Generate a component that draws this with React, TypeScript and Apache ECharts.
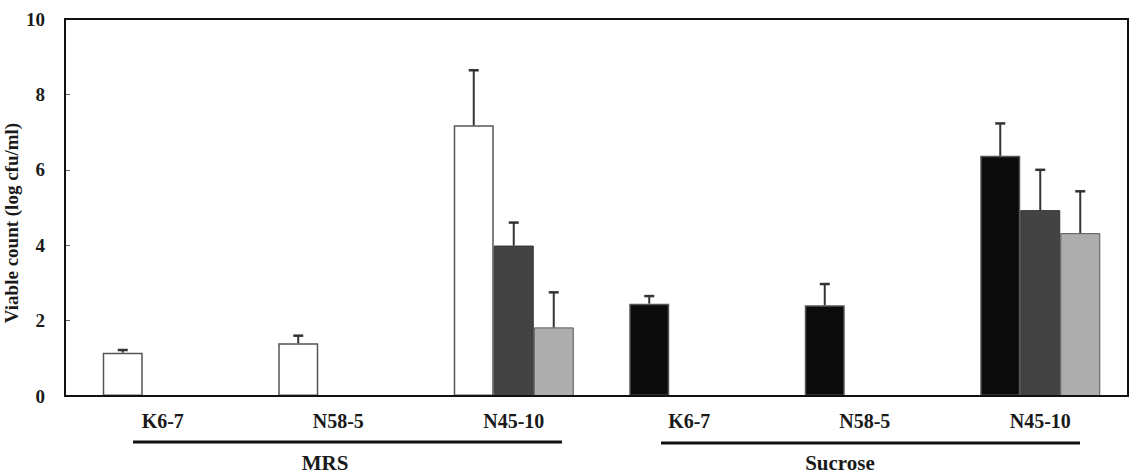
import React, { useEffect, useRef } from "react";
import * as echarts from "echarts";

const categories = ["K6-7", "N58-5", "N45-10", "K6-7", "N58-5", "N45-10"];
const groups = ["MRS", "Sucrose"];
const yTitle = "Viable count (log cfu/ml)";
const series1 = [1.15, 1.4, 7.18, 2.45, 2.41, 6.37];
const series1Err = [0.07, 0.2, 1.46, 0.2, 0.56, 0.86];
const series2 = [null, null, 3.99, null, null, 4.93];
const series2Err = [null, null, 0.61, null, null, 1.07];
const series3 = [null, null, 1.82, null, null, 4.32];
const series3Err = [null, null, 0.93, null, null, 1.11];
const yMin = 0;
const yMax = 10;
const yInterval = 2;

const FONT = "'Liberation Serif', 'Times New Roman', serif";
const BAR_W = 40;

export default function App() {
  const ref = useRef<HTMLDivElement>(null);
  useEffect(() => {
    if (!ref.current) return;
    const chart = echarts.init(ref.current, null, { renderer: "svg" });

    const s1Colors = categories.map((_, i) => (i < 3 ? "#ffffff" : "#0b0b0b"));
    const s1Data = series1.map((v, i) => ({ value: v, itemStyle: { color: s1Colors[i] } }));

    const errSeries = (vals: (number | null)[], errs: (number | null)[], idx: number) => ({
      type: "custom",
      z: 5,
      encode: { x: 0, y: [1] },
      data: vals
        .map((v, i) => [i, v, errs[i]])
        .filter((d) => d[1] !== null && d[2] !== null),
      renderItem: (params: any, api: any) => {
        const i = api.value(0);
        const v = api.value(1);
        const e = api.value(2);
        const base = api.coord([i, v]);
        const top = api.coord([i, v + e]);
        const x = base[0] + (idx - 1) * BAR_W;
        return {
          type: "group",
          children: [
            { type: "line", shape: { x1: x, y1: base[1], x2: x, y2: top[1] }, style: { stroke: "#333", lineWidth: 2 } },
            { type: "line", shape: { x1: x - 5, y1: top[1], x2: x + 5, y2: top[1] }, style: { stroke: "#333", lineWidth: 2.5 } },
          ],
        };
      },
    });

    const textStyleBase = {
      fontFamily: FONT,
      fontWeight: "bold",
      fill: "#1a1a1a",
    };

    const option: any = {
      animation: false,
      backgroundColor: "#ffffff",
      grid: { left: 75, right: 12, top: 19, bottom: 78, containLabel: false, outerBoundsMode: "none" },
      xAxis: {
        type: "category",
        data: categories,
        axisLine: { show: false },
        axisTick: { show: false },
        axisLabel: {
          interval: 0,
          margin: 15,
          fontFamily: FONT,
          fontWeight: "bold",
          fontSize: 20,
          color: "#1a1a1a",
        },
      },
      yAxis: {
        type: "value",
        min: yMin,
        max: yMax,
        interval: yInterval,
        offset: 10,
        splitLine: { show: false },
        axisLine: { show: false },
        axisTick: { show: true, inside: true, length: 5, lineStyle: { color: "#666" } },
        axisLabel: {
          margin: 20,
          fontFamily: FONT,
          fontWeight: "bold",
          fontSize: 19,
          color: "#1a1a1a",
        },
      },
      series: [
        {
          type: "bar",
          data: s1Data,
          barWidth: BAR_W,
          barGap: "0%",
          itemStyle: { borderColor: "#555", borderWidth: 1.5 },
        },
        {
          type: "bar",
          data: series2,
          barWidth: BAR_W,
          barGap: "0%",
          itemStyle: { color: "#434343", borderColor: "#333", borderWidth: 1 },
        },
        {
          type: "bar",
          data: series3,
          barWidth: BAR_W,
          barGap: "0%",
          itemStyle: { color: "#adadad", borderColor: "#555", borderWidth: 1 },
        },
        errSeries(series1, series1Err, 0),
        errSeries(series2, series2Err, 1),
        errSeries(series3, series3Err, 2),
      ],
      graphic: [
        {
          type: "rect",
          z: 100,
          shape: { x: 65, y: 19, width: 1063, height: 377 },
          style: { fill: "none", stroke: "#111", lineWidth: 2 },
        },
        {
          type: "text",
          z: 100,
          x: 11,
          y: 223,
          rotation: Math.PI / 2,
          style: {
            ...textStyleBase,
            text: yTitle,
            fontSize: 19,
            textAlign: "center",
            textVerticalAlign: "middle",
          },
        },
        {
          type: "line",
          z: 100,
          shape: { x1: 133, y1: 442, x2: 562, y2: 442 },
          style: { stroke: "#111", lineWidth: 3 },
        },
        {
          type: "line",
          z: 100,
          shape: { x1: 661, y1: 443, x2: 1080, y2: 443 },
          style: { stroke: "#111", lineWidth: 3 },
        },
        {
          type: "text",
          z: 100,
          x: 325,
          y: 473,
          style: {
            ...textStyleBase,
            text: groups[0],
            fontSize: 21,
            textAlign: "center",
            textVerticalAlign: "bottom",
          },
        },
        {
          type: "text",
          z: 100,
          x: 840,
          y: 473,
          style: {
            ...textStyleBase,
            text: groups[1],
            fontSize: 21,
            textAlign: "center",
            textVerticalAlign: "bottom",
          },
        },
      ],
    };
    chart.setOption(option);
    return () => chart.dispose();
  }, []);
  return (
    <div
      ref={ref}
      style={{ position: "absolute", left: 0, top: 0, width: 1140, height: 474, background: "#fff" }}
    />
  );
}
